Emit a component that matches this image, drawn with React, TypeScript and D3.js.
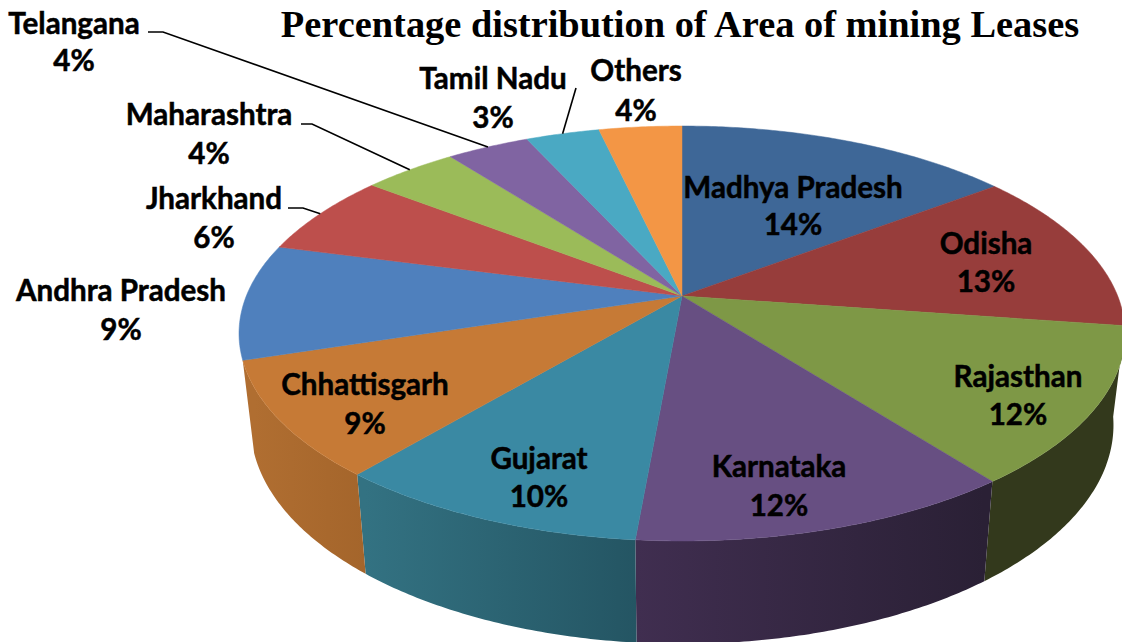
import * as d3 from 'd3';

const states = ['Madhya Pradesh', 'Odisha', 'Rajasthan', 'Karnataka', 'Gujarat', 'Chhattisgarh', 'Andhra Pradesh', 'Jharkhand', 'Maharashtra', 'Telangana', 'Tamil Nadu', 'Others'];
// slice sizes (the printed labels are rounded)
const shares = [14.65, 12.65, 12.25, 11.85, 9.7, 9, 9, 6.4, 4.1, 3.6, 3.2, 3.6];
const shareLabels = ['14%', '13%', '12%', '12%', '10%', '9%', '9%', '6%', '4%', '4%', '3%', '4%'];
const topColors = ['#3e6797', '#973d3b', '#7e9846', '#674f82', '#3a89a3', '#c67a36', '#4f80bd', '#bd4f4c', '#9bbb59', '#8064a2', '#4aa9c3', '#f39645'];

// only these slices show their outer wall: slice index, colour at left, colour at right
const walls: [number, string, string][] = [
  [2, '#33391c', '#33391c'],
  [3, '#402e50', '#2a2035'],
  [4, '#337282', '#245563'],
  [5, '#b06e31', '#a4652b'],
];

// label layout: x, y of the name line, y of the percent line
const labelX = [793, 986, 1018, 779, 539, 365, 121, 214, 209, 74, 493, 636];
const labelY = [186, 242, 375, 465, 457, 383, 289, 197, 113, 22, 77, 69];
const pctX = [793, 986, 1018, 779, 539, 365, 121, 214, 209, 74, 493, 636];
const pctY = [223, 280, 413, 504, 495, 422, 328, 236, 152, 59, 116, 109];

// leader lines: start points next to the labels, the end comes from the slice angle
const leaders = [
  { slice: 7, pts: [[288, 208], [303, 208]] },
  { slice: 8, pts: [[301, 124], [312, 124]] },
  { slice: 9, pts: [[148, 32], [163, 32]] },
  { slice: 10, pts: [[576, 88]] },
];

const WIDTH = 1122;
const HEIGHT = 642;
const CX = 682;
const CY = 296;
const persp = 0.1807; // foreshortening of the far side
const RX = 435.7;
const RY = 200.7;
const baseScale = 0.974;
const depth = 89.5;

const px = d3.scaleLinear().domain([-1, 1]).range([CX - RX, CX + RX]);
const pxBase = d3.scaleLinear().domain([-1, 1]).range([CX - RX * baseScale, CX + RX * baseScale]);

const topPoint = (a: number): [number, number] => {
  const x = Math.sin(a);
  const y = Math.cos(a);
  const w = 1 + persp * y;
  return [px(x / w), CY - (RY * y) / w];
};

const basePoint = (a: number): [number, number] => {
  const x = Math.sin(a);
  const y = Math.cos(a);
  const w = 1 + persp * y;
  return [pxBase(x / w), CY + (depth - RY * baseScale * y) / w];
};

const arcAngles = (start: number, end: number) => {
  const n = Math.max(2, Math.ceil((end - start) / 0.01));
  return d3.range(n + 1).map((i) => start + ((end - start) * i) / n);
};

const line = d3.line();

const slices = d3.pie<number>().value((d) => d).sort(null)(shares);

export default function App() {
  const font = "Lato, 'Open Sans', sans-serif";
  return (
    <svg width={WIDTH} height={HEIGHT} style={{ position: 'absolute', left: 0, top: 0, background: '#fff' }}>
      <defs>
        {walls.map(([i, left, right]) => {
          const xs = arcAngles(slices[i].startAngle, slices[i].endAngle).map((a) => basePoint(a)[0]);
          return (
            <linearGradient key={i} id={`wall${i}`} gradientUnits="userSpaceOnUse" x1={d3.min(xs)} x2={d3.max(xs)} y1={0} y2={0}>
              <stop offset="0" stopColor={left} />
              <stop offset="1" stopColor={right} />
            </linearGradient>
          );
        })}
      </defs>

      {/* outer wall */}
      {walls.map(([i]) => {
        const angles = arcAngles(slices[i].startAngle, slices[i].endAngle);
        const pts = [...angles.map(topPoint), ...angles.slice().reverse().map(basePoint)];
        return <path key={i} d={line(pts) + 'Z'} fill={`url(#wall${i})`} />;
      })}

      {/* top face */}
      {slices.map((s, i) => {
        const pts: [number, number][] = [[CX, CY], ...arcAngles(s.startAngle, s.endAngle).map(topPoint)];
        return <path key={i} d={line(pts) + 'Z'} fill={topColors[i]} stroke={topColors[i]} strokeWidth={0.5} />;
      })}

      {/* leader lines */}
      {leaders.map((l) => {
        const s = slices[l.slice];
        const end = topPoint((s.startAngle + s.endAngle) / 2);
        return <path key={l.slice} d={line([...(l.pts as [number, number][]), end]) ?? ''} fill="none" stroke="#000" strokeWidth={1.6} />;
      })}

      <text x={680} y={37} textAnchor="middle" fontFamily="'Liberation Serif', serif" fontWeight="bold" fontSize={38.4} fill="#000">
        Percentage distribution of Area of mining Leases
      </text>

      {states.map((name, i) => (
        <g key={name} fontFamily={font} fontWeight="bold" fontSize={29.6} fill="#000" stroke="#000" strokeWidth={0.5} textAnchor="middle" dominantBaseline="central">
          <text x={labelX[i]} y={labelY[i]}>{name}</text>
          <text x={pctX[i]} y={pctY[i]}>{shareLabels[i]}</text>
        </g>
      ))}
    </svg>
  );
}
